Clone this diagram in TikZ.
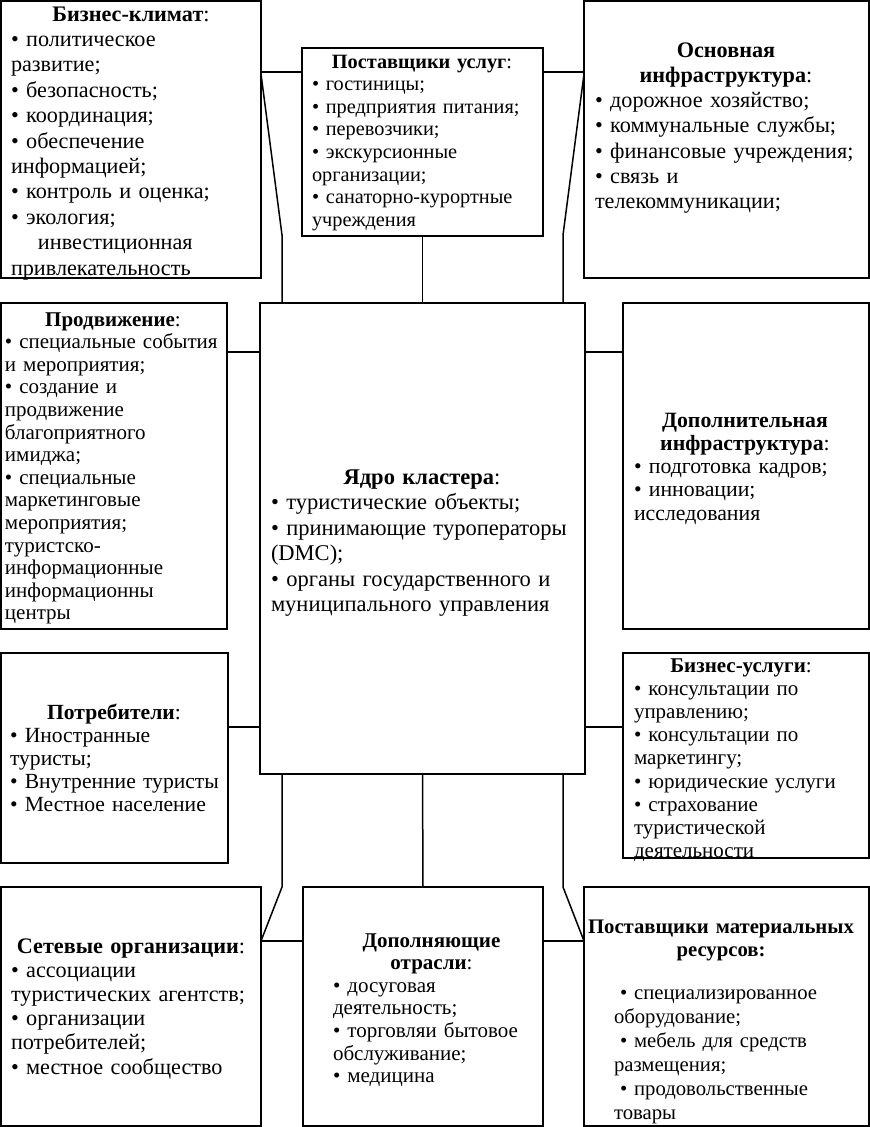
\documentclass[tikz,border=0pt]{standalone}
\usepackage{fontspec}
\setmainfont{Liberation Serif}
\newcommand\myfs[2]{\fontsize{#1}{#2}\selectfont}
\newcommand\mytitle[2]{\makebox[#1pt]{#2}}
\newcommand\mystretch[2]{\makebox[#1pt][s]{#2}}
\begin{document}
\begin{tikzpicture}[x=1pt,y=-1pt,
  box/.style={draw, line width=1.5pt, inner sep=0pt, outer sep=0pt, anchor=north west, fill=white},
  txt/.style={anchor=base west, inner sep=0pt, outer sep=0pt, align=left, text width=340pt},
  conn/.style={line width=1.5pt}]
\useasboundingbox[fill=white] (0,0) rectangle (870,1127);

% boxes
\node[box, minimum width=260pt, minimum height=277pt] (b1) at (1,1) {};
\node[box, minimum width=241pt, minimum height=188pt] (b2) at (302,48) {};
\node[box, minimum width=285pt, minimum height=277pt] (b3) at (584,1) {};
\node[box, minimum width=226pt, minimum height=326pt] (b4) at (1,303) {};
\node[box, minimum width=325pt, minimum height=471pt] (core) at (260,303) {};
\node[box, minimum width=246pt, minimum height=326pt] (b5) at (623,303) {};
\node[box, minimum width=227pt, minimum height=210pt] (b6) at (1,653) {};
\node[box, minimum width=246pt, minimum height=205pt] (b7) at (623,653) {};
\node[box, minimum width=260pt, minimum height=239pt] (b8) at (1,887) {};
\node[box, minimum width=240pt, minimum height=239pt] (b9) at (303,887) {};
\node[box, minimum width=285pt, minimum height=239pt] (b10) at (584,887) {};

% texts
\node[txt, font=\myfs{22.2}{25.4}] (t1) at (11,21) {%
\mytitle{240}{\textbf{Бизнес-климат}:}\\
• политическое\\
развитие;\\
• безопасность;\\
• координация;\\
• обеспечение\\
информацией;\\
• контроль и оценка;\\
• экология;\\
\hspace*{27pt}инвестиционная\\
привлекательность};

\node[txt, font=\myfs{20.3}{22.6}] (t2) at (312,68) {%
\mytitle{220}{\textbf{Поставщики услуг}:}\\
• гостиницы;\\
• предприятия питания;\\
• перевозчики;\\
• экскурсионные\\
организации;\\
\mystretch{220}{• санаторно-курортные}\\
учреждения};

\node[txt, font=\myfs{22.2}{25.3}] (t3) at (595,57) {%
\mytitle{262}{\textbf{Основная}}\\
\mytitle{262}{\textbf{инфраструктура}:}\\
• дорожное хозяйство;\\
• коммунальные службы;\\
• финансовые учреждения;\\
• связь и\\
телекоммуникации;};

\node[txt, font=\myfs{21}{22.6}] (t4) at (5,326) {%
\mytitle{216}{\textbf{Продвижение}:}\\
• специальные события\\
и мероприятия;\\
• создание и\\
продвижение\\
благоприятного\\
имиджа;\\
• специальные\\
маркетинговые\\
мероприятия;\\
туристско-\\
информационные\\
информационны\\
центры};

\node[txt, font=\myfs{22.5}{25.5}] (tc) at (271,484) {%
\mytitle{302}{\textbf{Ядро кластера}:}\\
• туристические объекты;\\
\mystretch{302}{• принимающие туроператоры}\\
(DMC);\\
\mystretch{302}{• органы государственного и}\\
муниципального управления};

\node[txt, font=\myfs{21.8}{23.3}] (t5) at (634,427) {%
\mytitle{222}{\textbf{Дополнительная}}\\
\mytitle{222}{\textbf{инфраструктура}:}\\
• подготовка кадров;\\
• инновации;\\
исследования};

\node[txt, font=\myfs{21.6}{23.2}] (t6) at (10,719) {%
\mytitle{208}{\textbf{Потребители}:}\\
• Иностранные\\
туристы;\\
• Внутренние туристы\\
• Местное население};

\node[txt, font=\myfs{21}{23.2}] (t7) at (634,672) {%
\mytitle{214}{\textbf{Бизнес-услуги}:}\\
• консультации по\\
управлению;\\
• консультации по\\
маркетингу;\\
• юридические услуги\\
• страхование\\
туристической\\
деятельности};

\node[txt, font=\myfs{22.2}{24.2}] (t8) at (11,953) {%
\mytitle{240}{\textbf{Сетевые организации}:}\\
• ассоциации\\
туристических агентств;\\
• организации\\
потребителей;\\
• местное сообщество};

\node[txt, font=\myfs{21}{22.6}] (t9) at (333,947) {%
\mytitle{197}{\textbf{Дополняющие}}\\
\mytitle{197}{\textbf{отрасли}:}\\
• досуговая\\
деятельность;\\
• торговляи бытовое\\
обслуживание;\\
• медицина};

\node[txt, font=\myfs{20.7}{23.9}] (t10) at (589,933) {%
\mytitle{264}{\textbf{Поставщики материальных}}\\
\mytitle{264}{\textbf{ресурсов:}}\\[19pt]
\hspace*{31pt}• специализированное\\
\hspace*{25pt}оборудование;\\
\hspace*{31pt}• мебель для средств\\
\hspace*{25pt}размещения;\\
\hspace*{31pt}• продовольственные\\
\hspace*{25pt}товары};

% helper coordinates
\coordinate (y72) at (0,72);
\coordinate (y74) at (0,74);
\coordinate (y352) at (0,352);
\coordinate (y727) at (0,727);
\coordinate (y941) at (0,941);
\coordinate (kl) at (282,235);
\coordinate (kr) at (563,235);
\coordinate (kbl) at (282,887);
\coordinate (kbr) at (563,887);

% connectors
\draw[conn] (b1.east |- y72) -- (b2.west |- y72);
\draw[conn] (b2.east |- y72) -- (b3.west |- y72);
\draw[conn] (b1.east |- y74) -- (kl) -- (kl |- core.north);
\draw[conn] (b3.west |- y74) -- (kr) -- (kr |- core.north);
\draw[conn] (b2.south) -- (core.north);
\draw[conn] (b4.east |- y352) -- (core.west |- y352);
\draw[conn] (core.east |- y352) -- (b5.west |- y352);
\draw[conn] (b6.east |- y727) -- (core.west |- y727);
\draw[conn] (core.east |- y727) -- (b7.west |- y727);
\draw[conn] (kbl |- core.south) -- (kbl) -- (b8.east |- y941);
\draw[conn] (b8.east |- y941) -- (b9.west |- y941);
\draw[conn] (core.south) -- (b9.north);
\draw[conn] (kbr |- core.south) -- (kbr) -- (b10.west |- y941);
\draw[conn] (b9.east |- y941) -- (b10.west |- y941);
\end{tikzpicture}
\end{document}
